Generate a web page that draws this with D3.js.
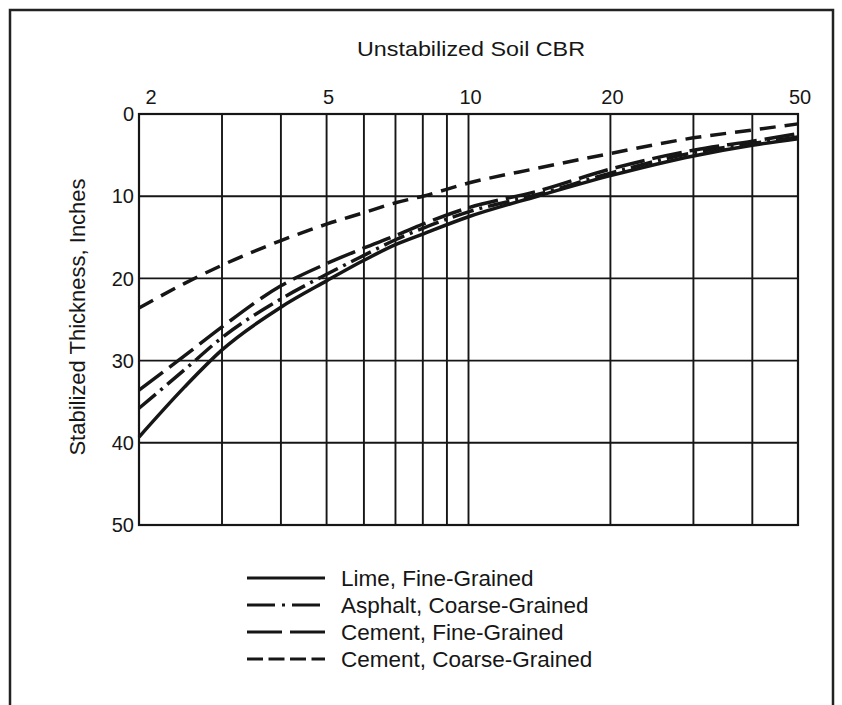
<!DOCTYPE html>
<html>
<head>
<meta charset="utf-8">
<script src="https://cdn.jsdelivr.net/npm/d3@7"></script>
<style>
  html, body { margin: 0; padding: 0; background: #fff; }
  svg { display: block; }
  text { font-family: "Liberation Sans", Arial, Helvetica, sans-serif; fill: #161616; }
</style>
</head>
<body>
<svg id="chart" width="842" height="705"></svg>
<script>
// ---- data ----
const cbr = [2, 2.5, 3, 4, 5, 6, 7, 8, 10, 14, 20, 30, 40, 50];
const limeFine      = [39.3, 33.2, 28.7, 23.5, 20.3, 17.8, 15.9, 14.6, 12.5, 10.0, 7.5, 5.1, 3.8, 3.0];
const asphaltCoarse = [35.8, 31.1, 27.2, 22.5, 19.5, 17.2, 15.3, 13.9, 11.9, 9.8, 7.2, 4.7, 3.6, 2.8];
const cementFine    = [33.6, 29.4, 25.9, 20.9, 18.2, 16.3, 14.8, 13.4, 11.4, 9.4, 6.7, 4.4, 3.3, 2.4];
const cementCoarse  = [23.6, 20.6, 18.4, 15.4, 13.4, 12.0, 10.8, 10.0, 8.4, 6.6, 4.8, 2.9, 1.95, 1.2];

const seriesNames = ["Lime, Fine-Grained", "Asphalt, Coarse-Grained", "Cement, Fine-Grained", "Cement, Coarse-Grained"];
const seriesValues = [limeFine, asphaltCoarse, cementFine, cementCoarse];
const seriesDash = [null, "22,6,3,6", "30,8", "16,9"];
const legendDash = [null, "28,7,3,7", "35,8", "16,5.5"];

const xGridValues = [3, 4, 5, 6, 7, 8, 9, 10, 20, 30, 40];
const xTickLabels = [2, 5, 10, 20, 50];
const yTickValues = [0, 10, 20, 30, 40, 50];
const xTitle = "Unstabilized Soil CBR";
const yTitle = "Stabilized Thickness, Inches";

// ---- layout ----
const svg = d3.select("#chart");
const pLeft = 139, pRight = 798, pTop = 114, pBottom = 525;

const x = d3.scaleLog().domain([2, 50]).range([pLeft, pRight]);
const y = d3.scaleLinear().domain([0, 50]).range([pTop, pBottom]);

const ink = "#161616";

// outer frame (top, left, right)
svg.append("path")
  .attr("d", d3.line()([[10, 705], [10, 10], [833, 10], [833, 705]]))
  .attr("fill", "none").attr("stroke", "#222").attr("stroke-width", 2.5);

// gridlines
const g = svg.append("g");
g.selectAll("line.vx").data(xGridValues).join("line")
  .attr("x1", d => x(d)).attr("x2", d => x(d))
  .attr("y1", pTop).attr("y2", pBottom)
  .attr("stroke", ink).attr("stroke-width", 1.9);
g.selectAll("line.hy").data(yTickValues.slice(1, -1)).join("line")
  .attr("y1", d => y(d)).attr("y2", d => y(d))
  .attr("x1", pLeft).attr("x2", pRight)
  .attr("stroke", ink).attr("stroke-width", 1.9);

// plot border
svg.append("rect")
  .attr("x", pLeft).attr("y", pTop)
  .attr("width", pRight - pLeft).attr("height", pBottom - pTop)
  .attr("fill", "none").attr("stroke", ink).attr("stroke-width", 2.2);

// x tick labels (top)
svg.selectAll("text.xt").data(xTickLabels).join("text")
  .attr("x", (d, i) => x(d) + (i === 0 ? 12 : 2))
  .attr("y", 104)
  .attr("text-anchor", "middle")
  .attr("font-size", 20)
  .text(d => d);

// y tick labels
svg.selectAll("text.yt").data(yTickValues).join("text")
  .attr("x", 134)
  .attr("y", d => y(d))
  .attr("dy", "0.36em")
  .attr("text-anchor", "end")
  .attr("font-size", 20)
  .text(d => d);

// titles
svg.append("text")
  .attr("x", 471).attr("y", 56)
  .attr("text-anchor", "middle")
  .attr("font-size", 21)
  .attr("textLength", 228)
  .attr("lengthAdjust", "spacingAndGlyphs")
  .text(xTitle);

svg.append("text")
  .attr("transform", "translate(85,317) rotate(-90)")
  .attr("text-anchor", "middle")
  .attr("font-size", 22)
  .text(yTitle);

// curves
const line = d3.line()
  .x(d => x(d[0]))
  .y(d => y(d[1]))
  .curve(d3.curveMonotoneX);

svg.append("g").selectAll("path").data(seriesValues).join("path")
  .attr("d", vals => line(cbr.map((c, i) => [c, vals[i]])))
  .attr("fill", "none")
  .attr("stroke", ink)
  .attr("stroke-width", 3.5)
  .attr("stroke-dasharray", (d, i) => seriesDash[i]);

// legend
const legend = svg.append("g");
const rows = legend.selectAll("g").data(seriesNames).join("g")
  .attr("transform", (d, i) => `translate(0, ${578 + i * 27})`);
rows.append("line")
  .attr("x1", 247).attr("x2", 325)
  .attr("y1", 0).attr("y2", 0)
  .attr("stroke", ink).attr("stroke-width", 3)
  .attr("stroke-dasharray", (d, i) => legendDash[i]);
rows.append("text")
  .attr("x", 341).attr("y", 0).attr("dy", "0.36em")
  .attr("font-size", 22.5)
  .text(d => d);
</script>
</body>
</html>
